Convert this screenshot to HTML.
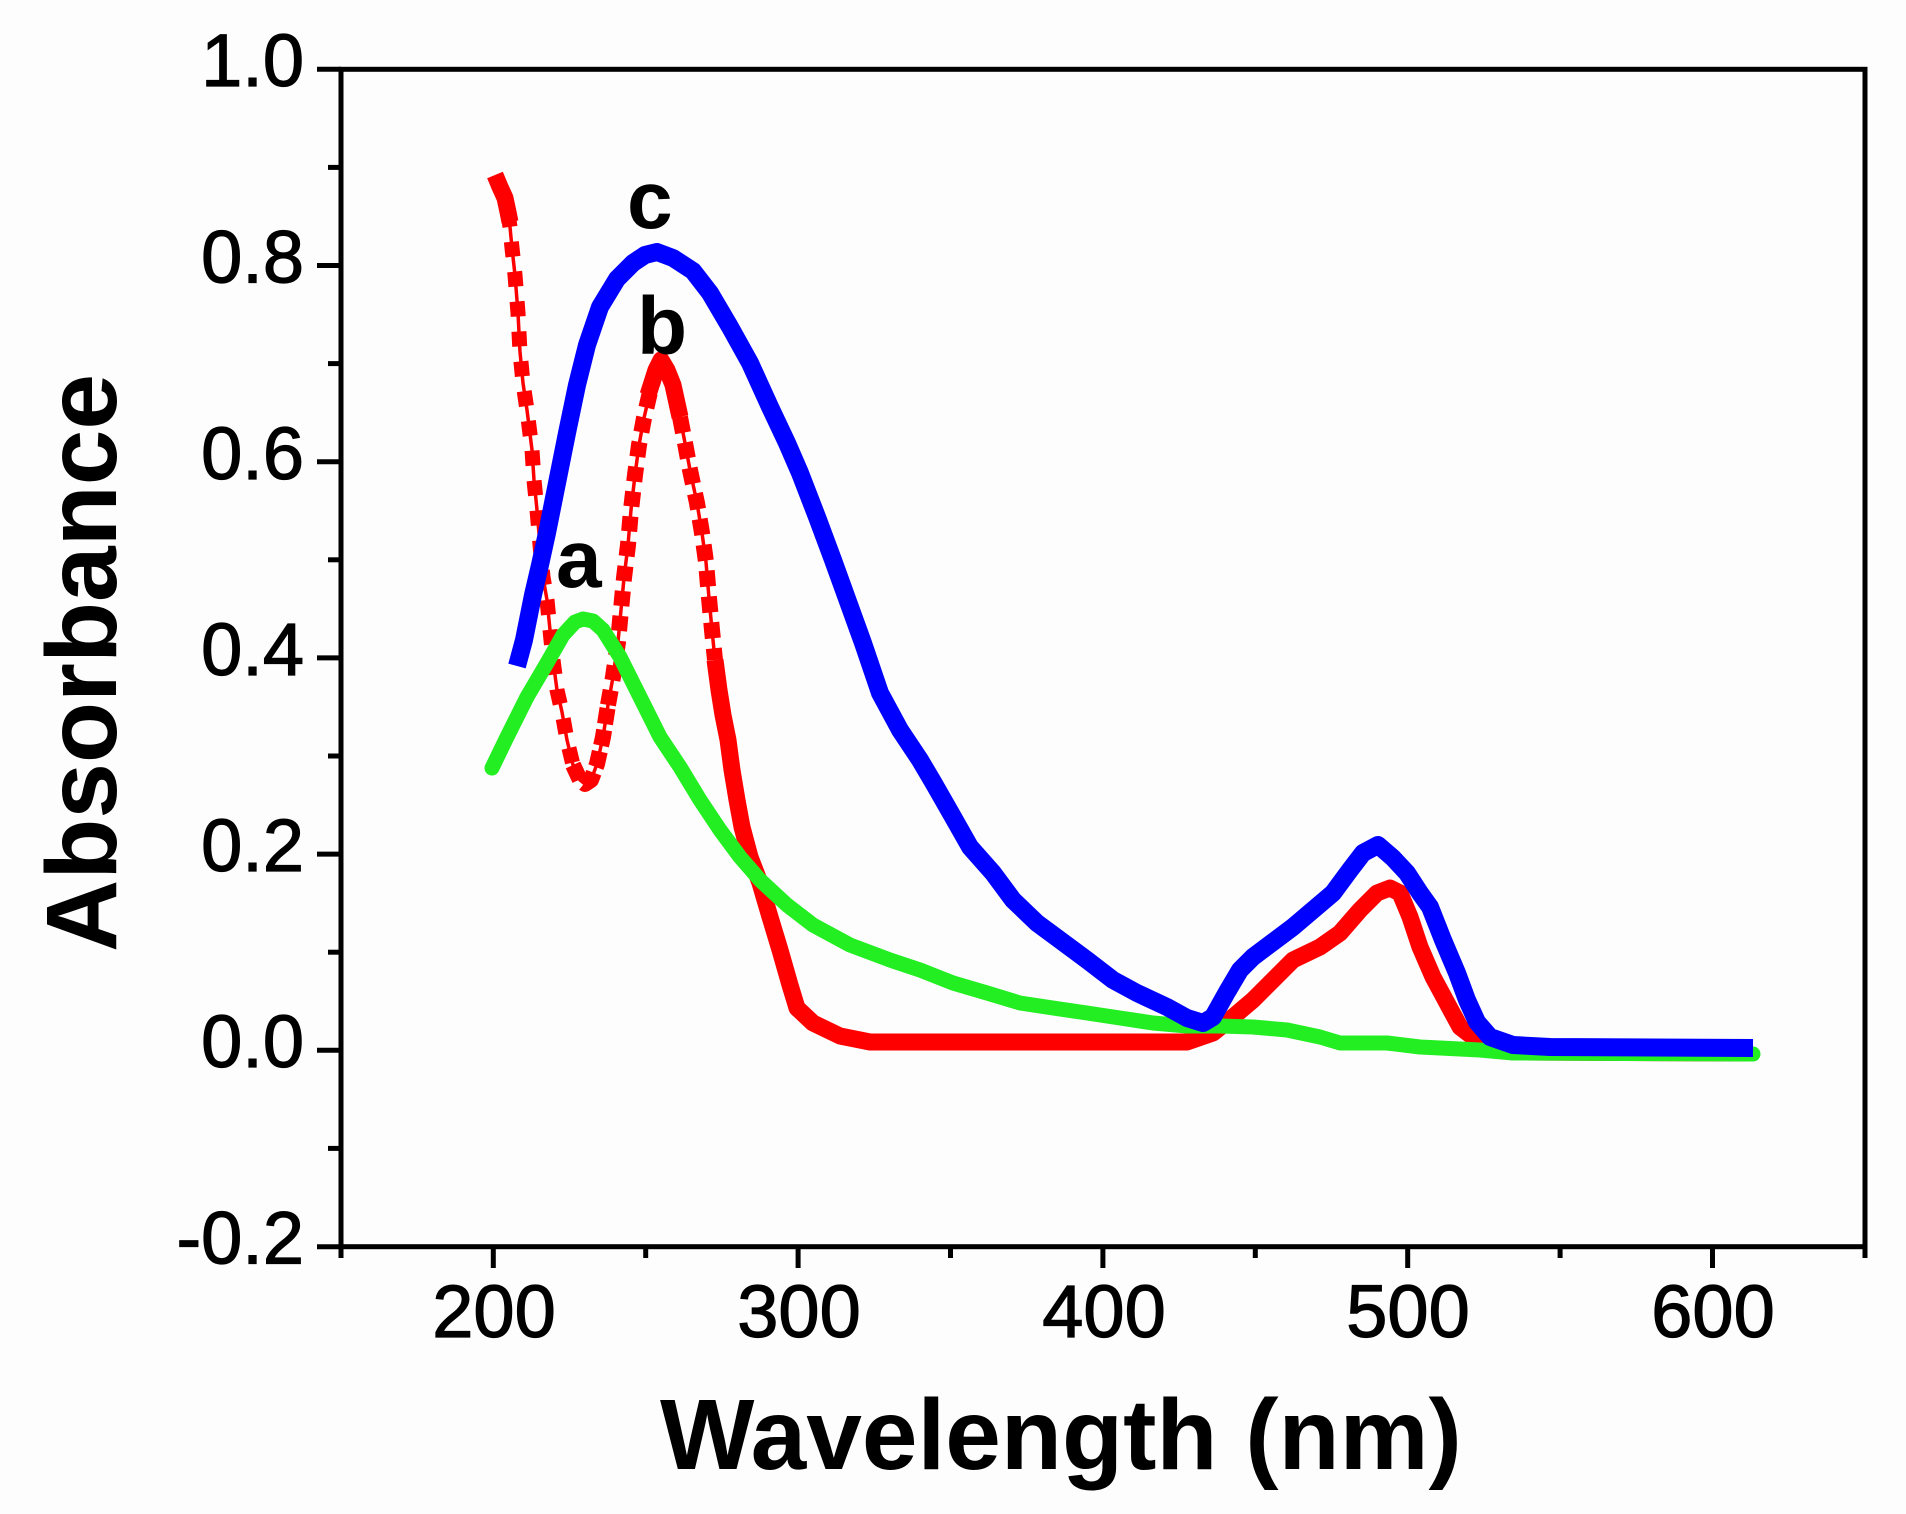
<!DOCTYPE html>
<html>
<head>
<meta charset="utf-8">
<style>
html,body{margin:0;padding:0;background:#fdfdfd;}
svg{display:block;}
text{font-family:"Liberation Sans",Arial,sans-serif;fill:#000;}
</style>
</head>
<body>
<svg width="1906" height="1514" viewBox="0 0 1906 1514" xmlns="http://www.w3.org/2000/svg">
<rect x="0" y="0" width="1906" height="1514" fill="#fdfdfd"/>

<!-- axes frame -->
<g stroke="#000" stroke-width="5" fill="none">
  <rect x="341" y="69.3" width="1524" height="1177.4"/>
  <line x1="317" y1="69.3" x2="341" y2="69.3"/>
  <line x1="317" y1="265.5" x2="341" y2="265.5"/>
  <line x1="317" y1="461.7" x2="341" y2="461.7"/>
  <line x1="317" y1="657.9" x2="341" y2="657.9"/>
  <line x1="317" y1="854.1" x2="341" y2="854.1"/>
  <line x1="317" y1="1050.3" x2="341" y2="1050.3"/>
  <line x1="317" y1="1246.7" x2="341" y2="1246.7"/>
  <line x1="328" y1="167.4" x2="341" y2="167.4"/>
  <line x1="328" y1="363.6" x2="341" y2="363.6"/>
  <line x1="328" y1="559.8" x2="341" y2="559.8"/>
  <line x1="328" y1="756" x2="341" y2="756"/>
  <line x1="328" y1="952.2" x2="341" y2="952.2"/>
  <line x1="328" y1="1148.4" x2="341" y2="1148.4"/>
  <line x1="493.3" y1="1246.7" x2="493.3" y2="1268"/>
  <line x1="798.1" y1="1246.7" x2="798.1" y2="1268"/>
  <line x1="1102.9" y1="1246.7" x2="1102.9" y2="1268"/>
  <line x1="1407.7" y1="1246.7" x2="1407.7" y2="1268"/>
  <line x1="1712.5" y1="1246.7" x2="1712.5" y2="1268"/>
  <line x1="341" y1="1246.7" x2="341" y2="1258"/>
  <line x1="645.7" y1="1246.7" x2="645.7" y2="1258"/>
  <line x1="950.5" y1="1246.7" x2="950.5" y2="1258"/>
  <line x1="1255.3" y1="1246.7" x2="1255.3" y2="1258"/>
  <line x1="1560.1" y1="1246.7" x2="1560.1" y2="1258"/>
  <line x1="1865" y1="1246.7" x2="1865" y2="1258"/>
</g>

<!-- y tick labels -->
<g font-size="74" text-anchor="end" stroke="#000" stroke-width="1.2">
  <text x="304" y="86">1.0</text>
  <text x="304" y="282.5">0.8</text>
  <text x="304" y="479">0.6</text>
  <text x="304" y="675">0.4</text>
  <text x="304" y="871">0.2</text>
  <text x="304" y="1067">0.0</text>
  <text x="304" y="1263.5">-0.2</text>
</g>
<!-- x tick labels -->
<g font-size="74" text-anchor="middle" stroke="#000" stroke-width="1.2">
  <text x="494" y="1337">200</text>
  <text x="799" y="1337">300</text>
  <text x="1104" y="1337">400</text>
  <text x="1408" y="1337">500</text>
  <text x="1713" y="1337">600</text>
</g>

<!-- axis titles -->
<text x="660" y="1469" font-size="100" font-weight="bold">Wavelength (nm)</text>
<text transform="translate(116,663) rotate(-90)" font-size="100" font-weight="bold" text-anchor="middle">Absorbance</text>

<!-- RED curve (b) -->
<g fill="none" stroke="#ff0000" stroke-linejoin="round">
  <polyline stroke-width="3.5" points="508,212 510,227 512,248 515,275 518,313 520,352 523,383 527,410 532,450 534,480 537,510 540,545 543,577 547,600 550,630 553,660 557,690 562,712 567,740 573,765 580,780 585,784 591,780 597,764 603,737 608,705 613,677 618,642 621,610 624,578 628,545 631,510 635,475 639,445 644,418 650,392 656,370 661,360 667,370 673,385 680,417 685,443 690,470 697,503 702,533 706,562 709,598 712,630 715,660"/>
  <polyline stroke-width="15" stroke-dasharray="15 15" points="508,212 510,227 512,248 515,275 518,313 520,352 523,383 527,410 532,450 534,480 537,510 540,545 543,577 547,600 550,630 553,660 557,690 562,712 567,740 573,765"/>
  <polyline stroke-width="16" stroke-dasharray="16 6" points="573,765 580,780 585,784 591,780 597,764 603,737 608,705"/>
  <polyline stroke-width="16" stroke-dasharray="15 10" points="608,705 613,677 618,642 621,610 624,578 628,545 631,510 635,475 639,445 644,418 650,392 656,370"/>
  <polyline stroke-width="17" points="648,395 656,370 661,360 667,370 673,385 680,417"/>
  <polyline stroke-width="16" stroke-dasharray="16 10" points="680,417 685,443 690,470 697,503 702,533 706,562 709,598 712,630 715,660"/>
  <polyline stroke-width="17" points="495,175 500,187 505,198 508,212 510,222"/>
  <polyline stroke-width="17" points="715,660 719,690 723,715 728,740 732,770 737,800 742,827 750,857 760,883 770,917 780,950 790,985 797,1008 813,1023 840,1036 870,1042 1187,1042 1213,1033 1233,1017 1253,1000 1273,980 1293,960 1320,947 1340,933 1360,910 1377,893 1390,888 1400,893 1410,917 1420,947 1433,977 1447,1003 1460,1027 1473,1037 1490,1047 1513,1052 1753,1053"/>
</g>

<!-- GREEN curve (a) -->
<polyline fill="none" stroke="#22ee22" stroke-width="15" stroke-linejoin="round" stroke-linecap="round" points="492,768 507,737 527,697 547,663 563,635 575,622 583,619 593,621 603,630 620,657 640,697 660,737 680,767 700,800 720,830 740,857 760,880 787,905 813,925 850,945 890,960 920,970 953,983 987,993 1020,1003 1053,1008 1087,1013 1120,1018 1153,1023 1187,1026 1220,1026 1253,1027 1287,1030 1320,1037 1340,1043 1387,1043 1420,1047 1480,1050 1513,1053 1753,1054"/>

<!-- BLUE curve (c) -->
<polyline fill="none" stroke="#0000ff" stroke-width="18" stroke-linejoin="round" points="517,666 524,640 533,595 540,565 547,533 557,483 567,433 577,385 587,345 600,307 617,279 633,263 645,255 657,252 673,258 693,271 710,293 730,327 750,363 770,407 787,443 800,473 817,517 833,560 850,607 863,643 880,693 900,730 920,760 933,782 953,817 970,847 993,873 1013,900 1037,923 1060,940 1087,960 1113,980 1137,993 1167,1007 1187,1018 1203,1023 1213,1017 1227,992 1240,970 1253,957 1273,942 1293,927 1313,910 1333,893 1350,870 1363,853 1378,845 1393,858 1407,873 1420,893 1430,907 1443,940 1457,973 1467,1000 1477,1022 1490,1037 1513,1045 1550,1047 1753,1048"/>

<!-- curve labels -->
<g font-size="82" font-weight="bold">
  <text x="556" y="587">a</text>
  <text x="637" y="354">b</text>
  <text x="627" y="228">c</text>
</g>
</svg>
</body>
</html>
